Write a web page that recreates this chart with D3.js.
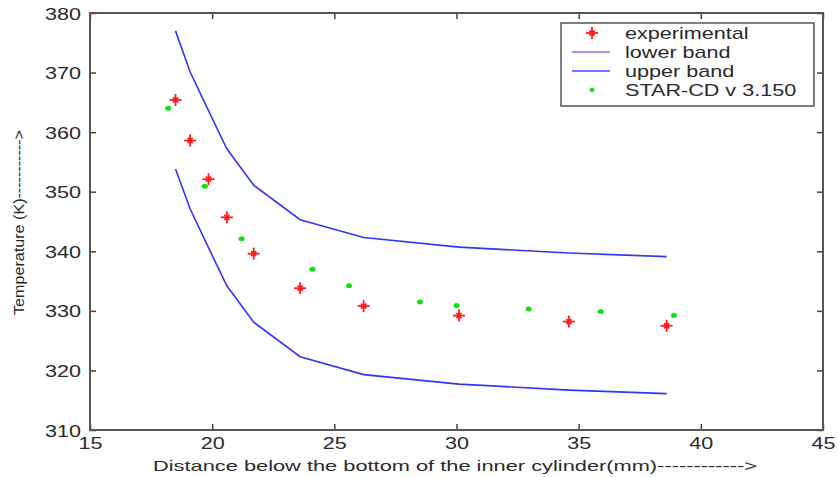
<!DOCTYPE html>
<html>
<head>
<meta charset="utf-8">
<script src="https://cdn.jsdelivr.net/npm/d3@7/dist/d3.min.js"></script>
<style>
  body { margin: 0; background: #fff; }
  svg { display: block; font-family: "Liberation Sans", Arial, sans-serif; }
  .tick text { fill: #2a2a2a; }
</style>
</head>
<body>
<div id="graf"></div>
<script>
// datos
const expX   = [18.5, 19.1, 19.85, 20.6, 21.7, 23.6, 26.2, 30.1, 34.6, 38.6]
const expY   = [365.4, 358.6, 352.1, 345.7, 339.6, 333.8, 330.8, 329.2, 328.2, 327.5]
const upperY = [377.0, 370.1, 363.6, 357.2, 351.1, 345.3, 342.3, 340.7, 339.7, 339.1]
const lowerY = [353.8, 347.1, 340.6, 334.2, 328.1, 322.3, 319.3, 317.7, 316.7, 316.1]
const starX  = [18.2, 19.7, 21.2, 24.1, 25.6, 28.5, 30.0, 32.95, 35.9, 38.9]
const starY  = [364.0, 350.9, 342.1, 337.0, 334.2, 331.5, 330.9, 330.3, 329.9, 329.2]
const xTicks = [15, 20, 25, 30, 35, 40, 45]
const yTicks = [310, 320, 330, 340, 350, 360, 370, 380]
const legendItems = ["experimental", "lower band", "upper band", "STAR-CD v 3.150"]

const anchoTotal = 838
const altoTotal = 477
const margins = { top: 13, right: 15, bottom: 47, left: 90 }
const ancho = anchoTotal - margins.left - margins.right
const alto = altoTotal - margins.top - margins.bottom

const svg = d3.select("#graf").append("svg").attr("width", anchoTotal).attr("height", altoTotal)
const g = svg.append("g").attr("transform", `translate(${margins.left}, ${margins.top})`)

const x = d3.scaleLinear().domain([15, 45]).range([0, ancho])
const y = d3.scaleLinear().domain([310, 380]).range([alto, 0])

// estira el texto en horizontal como en la imagen original
const estirar = (sel, f) => sel.each(function () {
    const w = this.getComputedTextLength()
    d3.select(this).attr("textLength", w * f).attr("lengthAdjust", "spacingAndGlyphs")
})

// ejes (ticks hacia dentro)
const ejeX = g.append("g").attr("transform", `translate(0, ${alto})`)
    .call(d3.axisBottom(x).tickValues(xTicks).tickSizeInner(-6).tickSizeOuter(0).tickPadding(8))
const ejeY = g.append("g")
    .call(d3.axisLeft(y).tickValues(yTicks).tickSizeInner(-6).tickSizeOuter(0).tickPadding(9))
g.append("g").call(d3.axisTop(x).tickValues(xTicks).tickSizeInner(-6).tickSizeOuter(0).tickFormat(""))
g.append("g").attr("transform", `translate(${ancho}, 0)`)
    .call(d3.axisRight(y).tickValues(yTicks).tickSizeInner(-6).tickSizeOuter(0).tickFormat(""))

g.selectAll(".domain").remove()
g.selectAll(".tick line").attr("stroke", "#444").attr("stroke-width", 1.5)
ejeX.selectAll("text").attr("font-size", 17).attr("dy", "0.62em").call(estirar, 1.27)
ejeY.selectAll("text").attr("font-size", 17).attr("dy", "0.36em").call(estirar, 1.27)

g.append("rect").attr("width", ancho).attr("height", alto)
    .attr("fill", "none").attr("stroke", "#555").attr("stroke-width", 2)

// bandas
const linea = d3.line().x((d, i) => x(expX[i])).y(d => y(d))
g.append("path").datum(lowerY).attr("d", linea)
    .attr("fill", "none").attr("stroke", "#3535f0").attr("stroke-width", 1.6)
g.append("path").datum(upperY).attr("d", linea)
    .attr("fill", "none").attr("stroke", "#3535f0").attr("stroke-width", 1.6)

// marcadores
const estrella = (sel) => {
    sel.append("line").attr("x1", -6).attr("x2", 6).attr("y1", 0).attr("y2", 0)
    sel.append("line").attr("x1", 0).attr("x2", 0).attr("y1", -6).attr("y2", 6)
    sel.append("line").attr("x1", -2.5).attr("x2", 2.5).attr("y1", -2.5).attr("y2", 2.5)
    sel.append("line").attr("x1", -2.5).attr("x2", 2.5).attr("y1", 2.5).attr("y2", -2.5)
    sel.attr("stroke", "#ff1a1a").attr("stroke-width", 1.8)
}
g.selectAll(".exp").data(expY).enter().append("g").attr("class", "exp")
    .attr("transform", (d, i) => `translate(${x(expX[i])}, ${y(d)})`)
    .call(estrella)

g.selectAll(".star").data(starY).enter().append("ellipse").attr("class", "star")
    .attr("cx", (d, i) => x(starX[i])).attr("cy", d => y(d))
    .attr("rx", 3).attr("ry", 2.5).attr("fill", "#12e012")

// leyenda
const ley = svg.append("g").attr("transform", "translate(561, 23)")
ley.append("rect").attr("width", 253).attr("height", 83)
    .attr("fill", "#fff").attr("stroke", "#555").attr("stroke-width", 1.5)
const filaY = (i) => 10 + i * 19
ley.append("g").attr("transform", `translate(31, ${filaY(0)})`).call(estrella)
ley.append("line").attr("x1", 11).attr("x2", 49).attr("y1", filaY(1)).attr("y2", filaY(1))
    .attr("stroke", "#7474ff").attr("stroke-width", 1.6)
ley.append("line").attr("x1", 11).attr("x2", 49).attr("y1", filaY(2)).attr("y2", filaY(2))
    .attr("stroke", "#4a4aff").attr("stroke-width", 1.6)
ley.append("ellipse").attr("cx", 31).attr("cy", filaY(3)).attr("rx", 2.5).attr("ry", 2.2).attr("fill", "#12e012")
ley.selectAll(".lt").data(legendItems).enter().append("text").attr("class", "lt")
    .attr("x", 64).attr("y", (d, i) => filaY(i)).attr("dy", "0.36em")
    .attr("font-size", 17).attr("fill", "#2a2a2a").text(d => d)
    .call(estirar, 1.27)

// titulos de ejes
svg.append("text").attr("x", 153).attr("y", 471).attr("font-size", 15).attr("fill", "#2a2a2a")
    .attr("textLength", 604).attr("lengthAdjust", "spacingAndGlyphs")
    .text("Distance below the bottom of the inner cylinder(mm)------------>")
svg.append("text").attr("transform", "translate(24, 315) rotate(-90)")
    .attr("font-size", 14).attr("fill", "#2a2a2a")
    .attr("textLength", 185).attr("lengthAdjust", "spacingAndGlyphs")
    .text("Temperature (K)----------->")
</script>
</body>
</html>
